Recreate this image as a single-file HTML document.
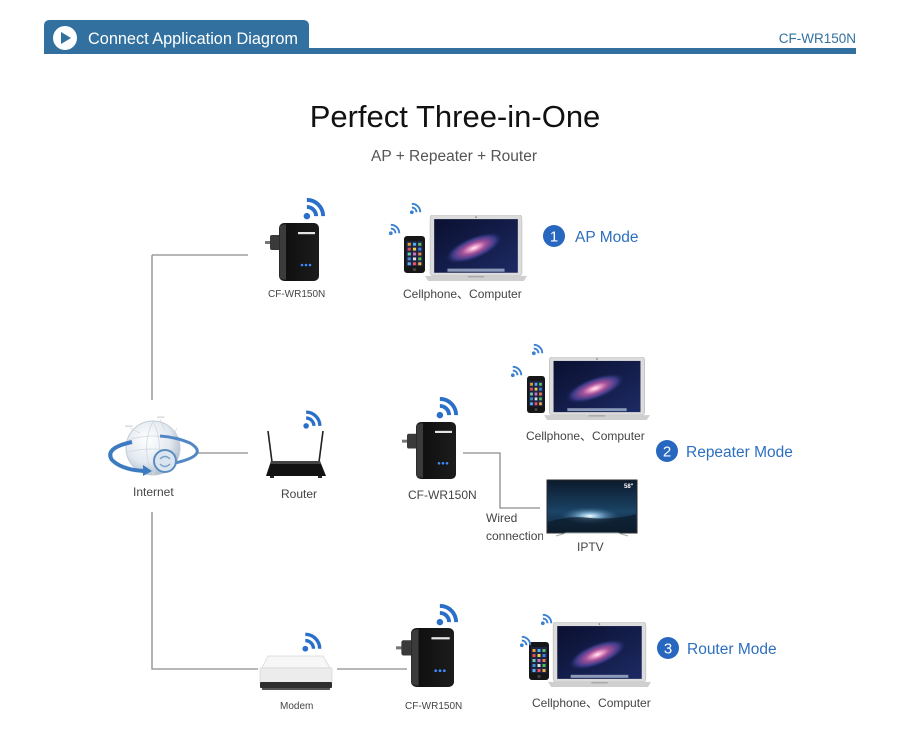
<!DOCTYPE html>
<html><head><meta charset="utf-8"><style>
html,body{margin:0;padding:0;background:#fff;width:900px;height:737px;overflow:hidden}
svg{display:block}
</style></head><body>
<svg width="900" height="737" viewBox="0 0 900 737" xmlns="http://www.w3.org/2000/svg">
<defs>
  <radialGradient id="gal" cx="0.5" cy="0.5" r="0.5">
    <stop offset="0" stop-color="#fff0f6"/>
    <stop offset="0.15" stop-color="#f2a8cf"/>
    <stop offset="0.4" stop-color="#a4529a"/>
    <stop offset="0.75" stop-color="#3a3a88"/>
    <stop offset="1" stop-color="#16204e" stop-opacity="0"/>
  </radialGradient>
  <linearGradient id="scr" x1="0" y1="0" x2="1" y2="1">
    <stop offset="0" stop-color="#0a1030"/>
    <stop offset="1" stop-color="#1d2a63"/>
  </linearGradient>
  <linearGradient id="extG" x1="0" y1="0" x2="1" y2="0">
    <stop offset="0" stop-color="#2c2c2c"/>
    <stop offset="0.2" stop-color="#101010"/>
    <stop offset="1" stop-color="#1c1c1c"/>
  </linearGradient>
  <radialGradient id="globeG" cx="0.4" cy="0.35" r="0.7">
    <stop offset="0" stop-color="#ffffff"/>
    <stop offset="0.6" stop-color="#e3e9f0"/>
    <stop offset="1" stop-color="#aab8c8"/>
  </radialGradient>
  <linearGradient id="tvG" x1="0" y1="0" x2="0" y2="1">
    <stop offset="0" stop-color="#0b1a2c"/>
    <stop offset="0.6" stop-color="#1b4466"/>
    <stop offset="1" stop-color="#0f2236"/>
  </linearGradient>
  <radialGradient id="tvGlow" cx="0.5" cy="0.5" r="0.5">
    <stop offset="0" stop-color="#ffffff"/>
    <stop offset="0.3" stop-color="#9fd0f0" stop-opacity="0.8"/>
    <stop offset="1" stop-color="#2a5a80" stop-opacity="0"/>
  </radialGradient>

  <symbol id="wifi" viewBox="0 0 24 24">
    <circle cx="4.5" cy="19.5" r="3" fill="#2a6fc9"/>
    <path d="M4.5 11 A8.5 8.5 0 0 1 13 19.5" stroke="#2a6fc9" stroke-width="3.6" fill="none"/>
    <path d="M4.5 4.5 A15 15 0 0 1 19.5 19.5" stroke="#2a6fc9" stroke-width="3.6" fill="none"/>
  </symbol>
  <symbol id="wifis" viewBox="0 0 24 24">
    <circle cx="4.5" cy="19.5" r="3" fill="#3c80d2"/>
    <path d="M4.5 12 A7.5 7.5 0 0 1 12 19.5" stroke="#3c80d2" stroke-width="3" fill="none"/>
    <path d="M4.5 6 A13.5 13.5 0 0 1 18 19.5" stroke="#3c80d2" stroke-width="3" fill="none"/>
  </symbol>

  <symbol id="extender" viewBox="0 0 54 60" preserveAspectRatio="none">
    <rect x="0" y="19" width="7" height="3" fill="#777"/>
    <rect x="5" y="13" width="12" height="15" rx="2" fill="#3a3a3a"/>
    <rect x="14" y="1" width="40" height="58" rx="5" fill="url(#extG)"/>
    <path d="M15 4 L21 2 L21 58 L15 56 Z" fill="#3b3b3b"/>
    <rect x="33" y="10" width="17" height="2.2" fill="#e5e5e5"/>
    <circle cx="37" cy="43" r="1.3" fill="#3c8cff"/>
    <circle cx="41" cy="43" r="1.3" fill="#3c8cff"/>
    <circle cx="45" cy="43" r="1.3" fill="#3c8cff"/>
  </symbol>

  <symbol id="laptop" viewBox="0 0 100 64" preserveAspectRatio="none">
    <rect x="5" y="0" width="90" height="59" rx="3" fill="#dcdcdc" stroke="#b8b8b8" stroke-width="0.6"/>
    <rect x="9" y="4" width="82" height="52" fill="url(#scr)"/>
    <ellipse cx="48" cy="32" rx="30" ry="11" fill="url(#gal)" transform="rotate(-22 48 32)"/>
    <rect x="22" y="52" width="56" height="3" fill="#8a9ab8"/>
    <circle cx="50" cy="2" r="0.8" fill="#777"/>
    <path d="M0 59 L100 59 L97 64 L3 64 Z" fill="#cfcfcf"/>
    <rect x="42" y="59" width="16" height="1.5" fill="#aaa"/>
  </symbol>

  <symbol id="phone" viewBox="0 0 20 38" preserveAspectRatio="none">
    <rect x="0" y="0" width="20" height="38" rx="3" fill="#161616"/>
    <rect x="2" y="5" width="16" height="26" fill="#1d2444"/>
    <g>
      <rect x="3.5" y="7" width="3" height="3" fill="#f0a030"/><rect x="8.5" y="7" width="3" height="3" fill="#50b0f0"/><rect x="13.5" y="7" width="3" height="3" fill="#60c060"/>
      <rect x="3.5" y="12" width="3" height="3" fill="#e05050"/><rect x="8.5" y="12" width="3" height="3" fill="#f0d040"/><rect x="13.5" y="12" width="3" height="3" fill="#4080e0"/>
      <rect x="3.5" y="17" width="3" height="3" fill="#70d0a0"/><rect x="8.5" y="17" width="3" height="3" fill="#d070c0"/><rect x="13.5" y="17" width="3" height="3" fill="#f08040"/>
      <rect x="3.5" y="22" width="3" height="3" fill="#4090d0"/><rect x="8.5" y="22" width="3" height="3" fill="#e0e0e0"/><rect x="13.5" y="22" width="3" height="3" fill="#50c050"/>
      <rect x="3.5" y="27" width="3" height="3" fill="#60b0f0"/><rect x="8.5" y="27" width="3" height="3" fill="#f05060"/><rect x="13.5" y="27" width="3" height="3" fill="#f0b040"/>
    </g>
    <circle cx="10" cy="34.5" r="1.6" fill="#444"/>
  </symbol>
</defs>

<!-- Header -->
<path d="M44 26 Q44 20 50 20 L303 20 Q309 20 309 26 L309 54 L48 54 Q44 54 44 50 Z" fill="#31709f"/>
<rect x="44" y="48" width="812" height="6" fill="#31709f"/>
<circle cx="65" cy="38" r="12" fill="#fff"/>
<path d="M61 32 L61 44 L71 38 Z" fill="#31709f"/>
<text x="88" y="44" font-family="Liberation Sans, sans-serif" font-size="16.3" fill="#fff">Connect Application Diagrom</text>
<text x="856" y="43" text-anchor="end" font-family="Liberation Sans, sans-serif" font-size="13.5" fill="#31709f">CF-WR150N</text>

<!-- Titles -->
<text x="455" y="127" text-anchor="middle" font-family="Liberation Sans, sans-serif" font-size="31" fill="#111">Perfect Three-in-One</text>
<text x="454" y="161" text-anchor="middle" font-family="Liberation Sans, sans-serif" font-size="15.5" fill="#555">AP + Repeater + Router</text>

<!-- Connectors -->
<g stroke="#8c8c8c" stroke-width="1.3" fill="none">
  <path d="M152 255 H248"/>
  <path d="M152 255 V400"/>
  <path d="M152 512 V669 H258"/>
  <path d="M198 453 H248"/>
  <path d="M337 669 H407"/>
  <path d="M463 453 H500 V508 H540"/>
</g>

<!-- Top row -->
<use href="#extender" x="265" y="222" width="54" height="60"/>
<use href="#wifi" x="302" y="195" width="26" height="26"/>
<use href="#laptop" x="425" y="215" width="102" height="66"/>
<use href="#phone" x="404" y="236" width="21" height="37"/>
<use href="#wifis" x="409" y="200" width="15" height="15"/>
<use href="#wifis" x="388" y="221" width="15" height="15"/>
<text x="268" y="297" font-family="Liberation Sans, sans-serif" font-size="10" fill="#444">CF-WR150N</text>
<text x="403" y="298" font-family="Liberation Sans, 'Noto Sans CJK SC', sans-serif" font-size="12" fill="#444">Cellphone、Computer</text>
<circle cx="554" cy="236" r="11" fill="#2767c0"/>
<text x="554" y="241.5" text-anchor="middle" font-family="Liberation Sans, sans-serif" font-size="15" fill="#fff">1</text>
<text x="575" y="242" font-family="Liberation Sans, sans-serif" font-size="15.5" fill="#2d6fbf">AP Mode</text>

<!-- Globe -->
<g>
  <circle cx="153" cy="448" r="27" fill="url(#globeG)" stroke="#c3ceda" stroke-width="1"/>
  <path d="M128 440 Q153 432 178 440 M127 452 Q153 446 179 452 M153 421 Q140 448 153 475 M153 421 Q166 448 153 475" stroke="#cfd8e2" stroke-width="0.8" fill="none"/>
  <path d="M175 463 Q210 455 190 443 Q176 437 160 436" stroke="#4f88c4" stroke-width="3" fill="none"/>
  <path d="M132 442 Q104 448 112 460 Q122 470 145 471" stroke="#3d7bc0" stroke-width="4" fill="none"/>
  <path d="M143 465 L152 471 L143 476 Z" fill="#3d7bc0"/>
  <circle cx="165" cy="461" r="11" fill="#dbe5ef" stroke="#5b8cc0" stroke-width="2"/>
  <path d="M160 459 Q165 454 170 459 M160 464 Q165 469 170 464" stroke="#7aa0c8" stroke-width="1.4" fill="none"/>
  <g stroke="#c8c8c8" stroke-width="0.5" fill="none"><path d="M130 428 L140 433 M160 419 L165 430 M177 428 L172 437"/></g>
  <text x="125" y="427" font-family="Liberation Sans, sans-serif" font-size="3" fill="#999">xxxxx</text>
  <text x="157" y="418" font-family="Liberation Sans, sans-serif" font-size="3" fill="#999">xxxxx</text>
</g>
<text x="133" y="496" font-family="Liberation Sans, sans-serif" font-size="12" fill="#444">Internet</text>

<!-- Router -->
<g>
  <line x1="268" y1="431" x2="272" y2="462" stroke="#222" stroke-width="1.6"/>
  <line x1="323" y1="431" x2="319" y2="462" stroke="#222" stroke-width="1.6"/>
  <path d="M266 476 L271 461 L320 461 L326 476 Z" fill="#121212"/>
  <path d="M271 461 L320 461 L321 464 L270 464 Z" fill="#444"/>
  <rect x="270" y="476" width="4" height="2" fill="#222"/><rect x="318" y="476" width="4" height="2" fill="#222"/>
</g>
<use href="#wifi" x="302" y="408" width="22" height="22"/>
<text x="281" y="498" font-family="Liberation Sans, sans-serif" font-size="12" fill="#444">Router</text>

<!-- Mid extender -->
<use href="#extender" x="402" y="421" width="54" height="59"/>
<use href="#wifi" x="435" y="394" width="26" height="26"/>
<text x="408" y="499" font-family="Liberation Sans, sans-serif" font-size="12" fill="#444">CF-WR150N</text>

<!-- Mid laptop -->
<use href="#laptop" x="544" y="357" width="106" height="63"/>
<use href="#phone" x="527" y="376" width="18" height="37"/>
<use href="#wifis" x="531" y="341" width="15" height="15"/>
<use href="#wifis" x="510" y="363" width="15" height="15"/>
<text x="526" y="440" font-family="Liberation Sans, 'Noto Sans CJK SC', sans-serif" font-size="12" fill="#444">Cellphone、Computer</text>
<circle cx="667" cy="451" r="11" fill="#2767c0"/>
<text x="667" y="456.5" text-anchor="middle" font-family="Liberation Sans, sans-serif" font-size="15" fill="#fff">2</text>
<text x="686" y="457" font-family="Liberation Sans, sans-serif" font-size="15.5" fill="#2d6fbf">Repeater Mode</text>

<!-- TV -->
<g>
  <rect x="547" y="480" width="90" height="53" fill="url(#tvG)" stroke="#2a2a2a" stroke-width="1"/>
  <ellipse cx="590" cy="516" rx="30" ry="9" fill="url(#tvGlow)"/>
  <path d="M548 522 Q570 515 590 518 Q615 520 636 514 L636 532 L548 532 Z" fill="#0c1a28" opacity="0.7"/>
  <text x="624" y="488" font-family="Liberation Sans, sans-serif" font-size="6" font-weight="bold" fill="#fff">58"</text>
  <path d="M556 536 L566 533 L618 533 L628 536" stroke="#aaa" stroke-width="1" fill="none"/>
</g>
<text x="486" y="522" font-family="Liberation Sans, sans-serif" font-size="12" fill="#444">Wired</text>
<svg x="486" y="528" width="57" height="16" overflow="hidden"><text x="0" y="12" font-family="Liberation Sans, sans-serif" font-size="12" fill="#444">connection</text></svg>
<text x="577" y="551" font-family="Liberation Sans, sans-serif" font-size="12" fill="#444">IPTV</text>

<!-- Bottom row -->
<g>
  <path d="M262 668 L268 656 L323 656 L330 668 Z" fill="#f7f7f7" stroke="#d8d8d8" stroke-width="0.8"/>
  <rect x="260" y="668" width="72" height="15" fill="#ececec" stroke="#cfcfcf" stroke-width="0.6"/>
  <rect x="260" y="682" width="72" height="6" rx="1" fill="#2e2e2e"/>
  <rect x="262" y="688" width="68" height="2" fill="#555"/>
</g>
<use href="#wifi" x="301" y="630" width="23" height="23"/>
<text x="280" y="709" font-family="Liberation Sans, sans-serif" font-size="10" fill="#444">Modem</text>

<use href="#extender" x="396" y="627" width="58" height="61"/>
<use href="#wifi" x="435" y="601" width="26" height="26"/>
<text x="405" y="709" font-family="Liberation Sans, sans-serif" font-size="10" fill="#444">CF-WR150N</text>

<use href="#laptop" x="548" y="622" width="103" height="65"/>
<use href="#phone" x="529" y="642" width="20" height="38"/>
<use href="#wifis" x="540" y="611" width="15" height="15"/>
<use href="#wifis" x="519" y="633" width="15" height="15"/>
<text x="532" y="707" font-family="Liberation Sans, 'Noto Sans CJK SC', sans-serif" font-size="12" fill="#444">Cellphone、Computer</text>
<circle cx="668" cy="648" r="11" fill="#2767c0"/>
<text x="668" y="653.5" text-anchor="middle" font-family="Liberation Sans, sans-serif" font-size="15" fill="#fff">3</text>
<text x="687" y="654" font-family="Liberation Sans, sans-serif" font-size="15.5" fill="#2d6fbf">Router Mode</text>
</svg>
</body></html>
